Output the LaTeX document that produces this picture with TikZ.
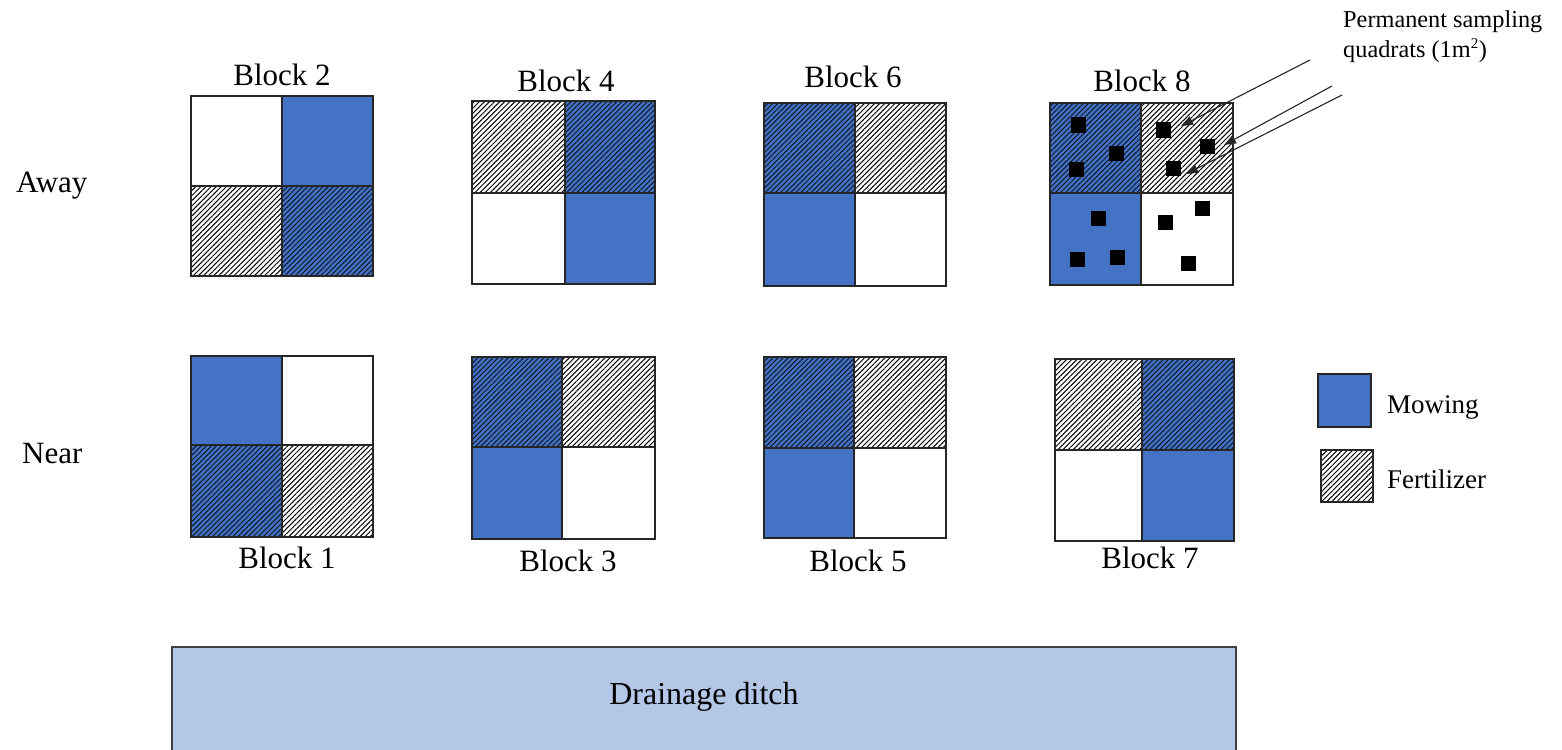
\documentclass[tikz,border=0pt]{standalone}
\usepackage{fontspec}
\setmainfont{Liberation Serif}
\usetikzlibrary{patterns.meta,arrows.meta}
\definecolor{mowblue}{HTML}{4472C4}
\definecolor{ditchblue}{HTML}{B4C7E7}
\definecolor{ditchline}{HTML}{404040}
\tikzset{
  wq/.style={fill=white},
  mq/.style={fill=mowblue},
  fq/.style={fill=white,postaction={pattern={Lines[angle=45,distance=3.6pt,line width=1pt]},pattern color=black}},
  mfq/.style={fill=mowblue,postaction={pattern={Lines[angle=45,distance=3.6pt,line width=1pt]},pattern color=black!80!mowblue}},
  border/.style={draw=black!85,line width=1.4pt},
  lbl/.style={font=\fontsize{31}{36}\selectfont,anchor=base,inner sep=0pt},
  leg/.style={font=\fontsize{27}{32}\selectfont,anchor=base west,inner sep=0pt},
  note/.style={font=\fontsize{24.3}{28}\selectfont,anchor=base west,inner sep=0pt},
  quadsq/.style={fill=black},
  pointer/.style={draw=black!85,line width=1.1pt,-{Triangle[length=12pt,width=9pt]}}
}
% block: #1 x0, #2 y0, #3 xm, #4 ym, #5 x1, #6 y1, #7 TL, #8 TR, #9 BL; BR style from \brstyle
\newcommand\drawblock[9]{%
  \path[#7] (#1,#2) rectangle (#3,#4);
  \path[#8] (#3,#2) rectangle (#5,#4);
  \path[#9] (#1,#4) rectangle (#3,#6);
  \blockbr{#3}{#4}{#5}{#6}%
  \draw[border] (#1,#2) rectangle (#5,#6);
  \draw[border] (#3,#2) -- (#3,#6);
  \draw[border] (#1,#4) -- (#5,#4);
}
\newcommand\blockbr[4]{\path[\brstyle] (#1,#2) rectangle (#3,#4);}
\newcommand\qsq[2]{\fill[quadsq] (#1-7.5,#2-7.5) rectangle (#1+7.5,#2+7.5);}
\begin{document}
\begin{tikzpicture}[x=1pt,y=-1pt]
\useasboundingbox (0,0) rectangle (1562,749);
\clip (0,0) rectangle (1562,749);
\fill[white] (0,0) rectangle (1562,749);

% Away row
\def\brstyle{mfq}\drawblock{191}{96}{282}{186}{373}{276}{wq}{mq}{fq}
\def\brstyle{mq}\drawblock{472}{101}{565}{193}{655}{284}{fq}{mfq}{wq}
\def\brstyle{wq}\drawblock{764}{103}{855}{193}{946}{286}{mfq}{fq}{mq}
\def\brstyle{wq}\drawblock{1050}{103}{1141}{193}{1233}{285}{mfq}{fq}{mq}
% Near row
\def\brstyle{fq}\drawblock{191}{356}{282}{445}{373}{537}{mq}{wq}{mfq}
\def\brstyle{wq}\drawblock{472}{357}{562}{447}{655}{539}{mfq}{fq}{mq}
\def\brstyle{wq}\drawblock{764}{357}{854}{448}{946}{538}{mfq}{fq}{mq}
\def\brstyle{mq}\drawblock{1055}{359}{1142}{450}{1234}{541}{fq}{mfq}{wq}

% sampling quadrats in block 8
\qsq{1078}{125}\qsq{1116}{153}\qsq{1076}{169}
\qsq{1163}{130}\qsq{1207}{146}\qsq{1173}{168}
\qsq{1098}{218}\qsq{1077}{259}\qsq{1117}{257}
\qsq{1202}{208}\qsq{1165}{222}\qsq{1188}{263}

% labels
\node[lbl] (b2) at (282,86) {Block 2};
\node[lbl] (b4) at (566,92) {Block 4};
\node[lbl] (b6) at (853,88) {Block 6};
\node[lbl] (b8) at (1142,92) {Block 8};
\node[lbl] (b1) at (287,568) {Block 1};
\node[lbl] (b3) at (568,571) {Block 3};
\node[lbl] (b5) at (858,571) {Block 5};
\node[lbl] (b7) at (1150,568) {Block 7};
\node[lbl,anchor=base west] (away) at (16,192) {Away};
\node[lbl,anchor=base west] (near) at (22,463) {Near};

% legend
\fill[mowblue,draw=black!85,line width=1.4pt] (1318,374) rectangle (1371,427);
\path[fq] (1321,450) rectangle (1373,502);
\draw[border] (1321,450) rectangle (1373,502);
\node[leg] (mow) at (1387,413) {Mowing};
\node[leg] (fert) at (1387,488) {Fertilizer};

% note and pointers
\node[note] (perm) at (1343,28) {Permanent sampling};
\node[note] (quad) at (1343,58) {quadrats (1m\textsuperscript{\fontsize{15}{15}\selectfont 2})};
\coordinate (s1) at (1310,60);
\coordinate (t1) at (1181,126);
\coordinate (s2) at (1332,86);
\coordinate (t2) at (1224,145);
\coordinate (s3) at (1342,95);
\coordinate (t3) at (1186,174);
\draw[pointer] (s1) -- (t1);
\draw[pointer] (s2) -- (t2);
\draw[pointer] (s3) -- (t3);

% drainage ditch
\draw[fill=ditchblue,draw=ditchline,line width=1.2pt] (172,647) rectangle (1236,770);
\node[font=\fontsize{32}{38}\selectfont,inner sep=0pt] (ditch) at (704,697) {Drainage ditch};
\end{tikzpicture}
\end{document}
